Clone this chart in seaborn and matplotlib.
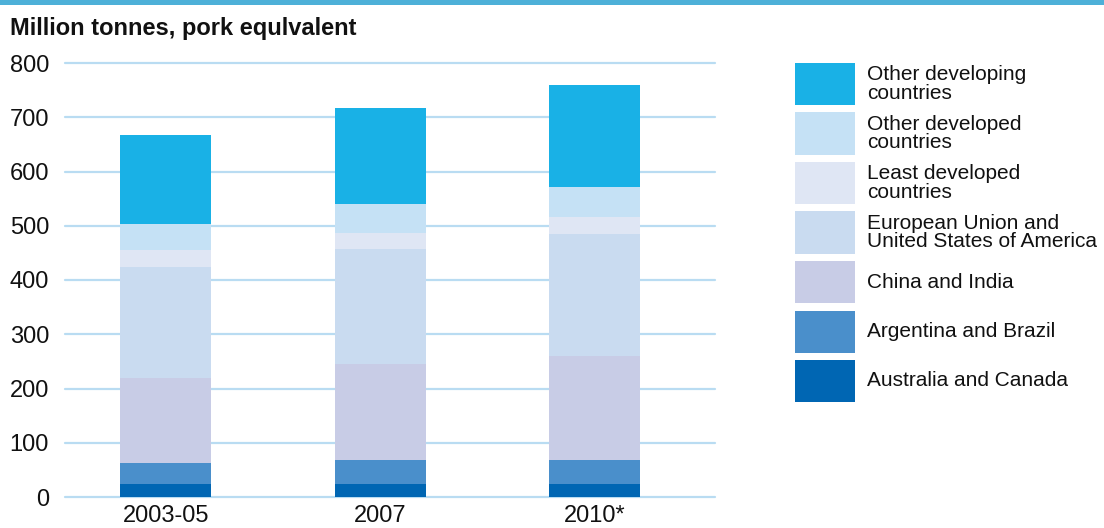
"""Stacked bars: meat consumption by country group, million tonnes pork equivalent."""

import matplotlib

matplotlib.use("Agg")
import matplotlib.pyplot as plt
from matplotlib.patches import Rectangle
import numpy as np
import pandas as pd
import seaborn as sns

# data, bottom segment first
periods = ["2003-05", "2007", "2010*"]
groups = [
    "Australia and Canada",
    "Argentina and Brazil",
    "China and India",
    "European Union and\nUnited States of America",
    "Least developed\ncountries",
    "Other developed\ncountries",
    "Other developing\ncountries",
]
australia_canada = [24, 24, 24]
argentina_brazil = [39, 44, 44]
china_india = [156, 177, 192]
eu_usa = [205, 212, 225]
least_developed = [31, 30, 31]
other_developed = [48, 53, 55]
other_developing = [164, 177, 189]

colors = ["#0066b3", "#4a8fcb", "#c8cce6", "#c9dbf0", "#dfe6f4", "#c5e1f5", "#19b1e6"]
yticks = [0, 100, 200, 300, 400, 500, 600, 700, 800]

series = [australia_canada, argentina_brazil, china_india, eu_usa,
          least_developed, other_developed, other_developing]
cum = np.cumsum(np.array(series), axis=0)

sns.set_theme(style="white")
plt.rcParams["font.family"] = ["Liberation Sans", "DejaVu Sans"]

fig = plt.figure(figsize=(11.04, 5.28), dpi=100)
ax = fig.add_axes([65 / 1104, 1 - 497 / 528, 650 / 1104, 434 / 528])

# grid behind bars
for y in yticks:
    ax.axhline(y, color="#b9dcf2", lw=1.6, zorder=0, clip_on=False)

# draw cumulative bars from the top group down so each overlays the previous
for i in range(len(groups) - 1, -1, -1):
    df = pd.DataFrame({"period": periods, "value": cum[i]})
    sns.barplot(data=df, x="period", y="value", color=colors[i], width=0.424,
                saturation=1, linewidth=0, edgecolor="none", ax=ax, zorder=2)

ax.set_xlim(-0.47, 2.56)
ax.set_ylim(0, 800)
ax.set_yticks(yticks)
ax.set_yticklabels([str(v) for v in yticks], fontsize=17, color="#111111")
ax.tick_params(axis="y", length=0, pad=11.5)
ax.tick_params(axis="x", length=0, pad=6, labelsize=17, labelcolor="#111111")
ax.set_xlabel("")
ax.set_ylabel("")
for s in ax.spines.values():
    s.set_visible(False)

# top stripe
fig.add_artist(Rectangle((0, 1 - 5 / 528), 1, 5 / 528, transform=fig.transFigure,
                         color="#4db0d8", lw=0))

fig.text(10 / 1104, 1 - 29 / 528, "Million tonnes, pork equlvalent",
         fontsize=17, fontweight="bold", va="center", ha="left", color="#111111")

# legend, top group first
for k, i in enumerate(range(len(groups) - 1, -1, -1)):
    top = 63 + k * 49.5
    fig.add_artist(Rectangle((795 / 1104, 1 - (top + 42) / 528), 60 / 1104, 42 / 528,
                             transform=fig.transFigure, color=colors[i], lw=0))
    fig.text(867 / 1104, 1 - (top + 21) / 528, groups[i], fontsize=15,
             va="center", ha="left", linespacing=0.95, color="#111111")

fig.savefig("out.png", dpi=100)
